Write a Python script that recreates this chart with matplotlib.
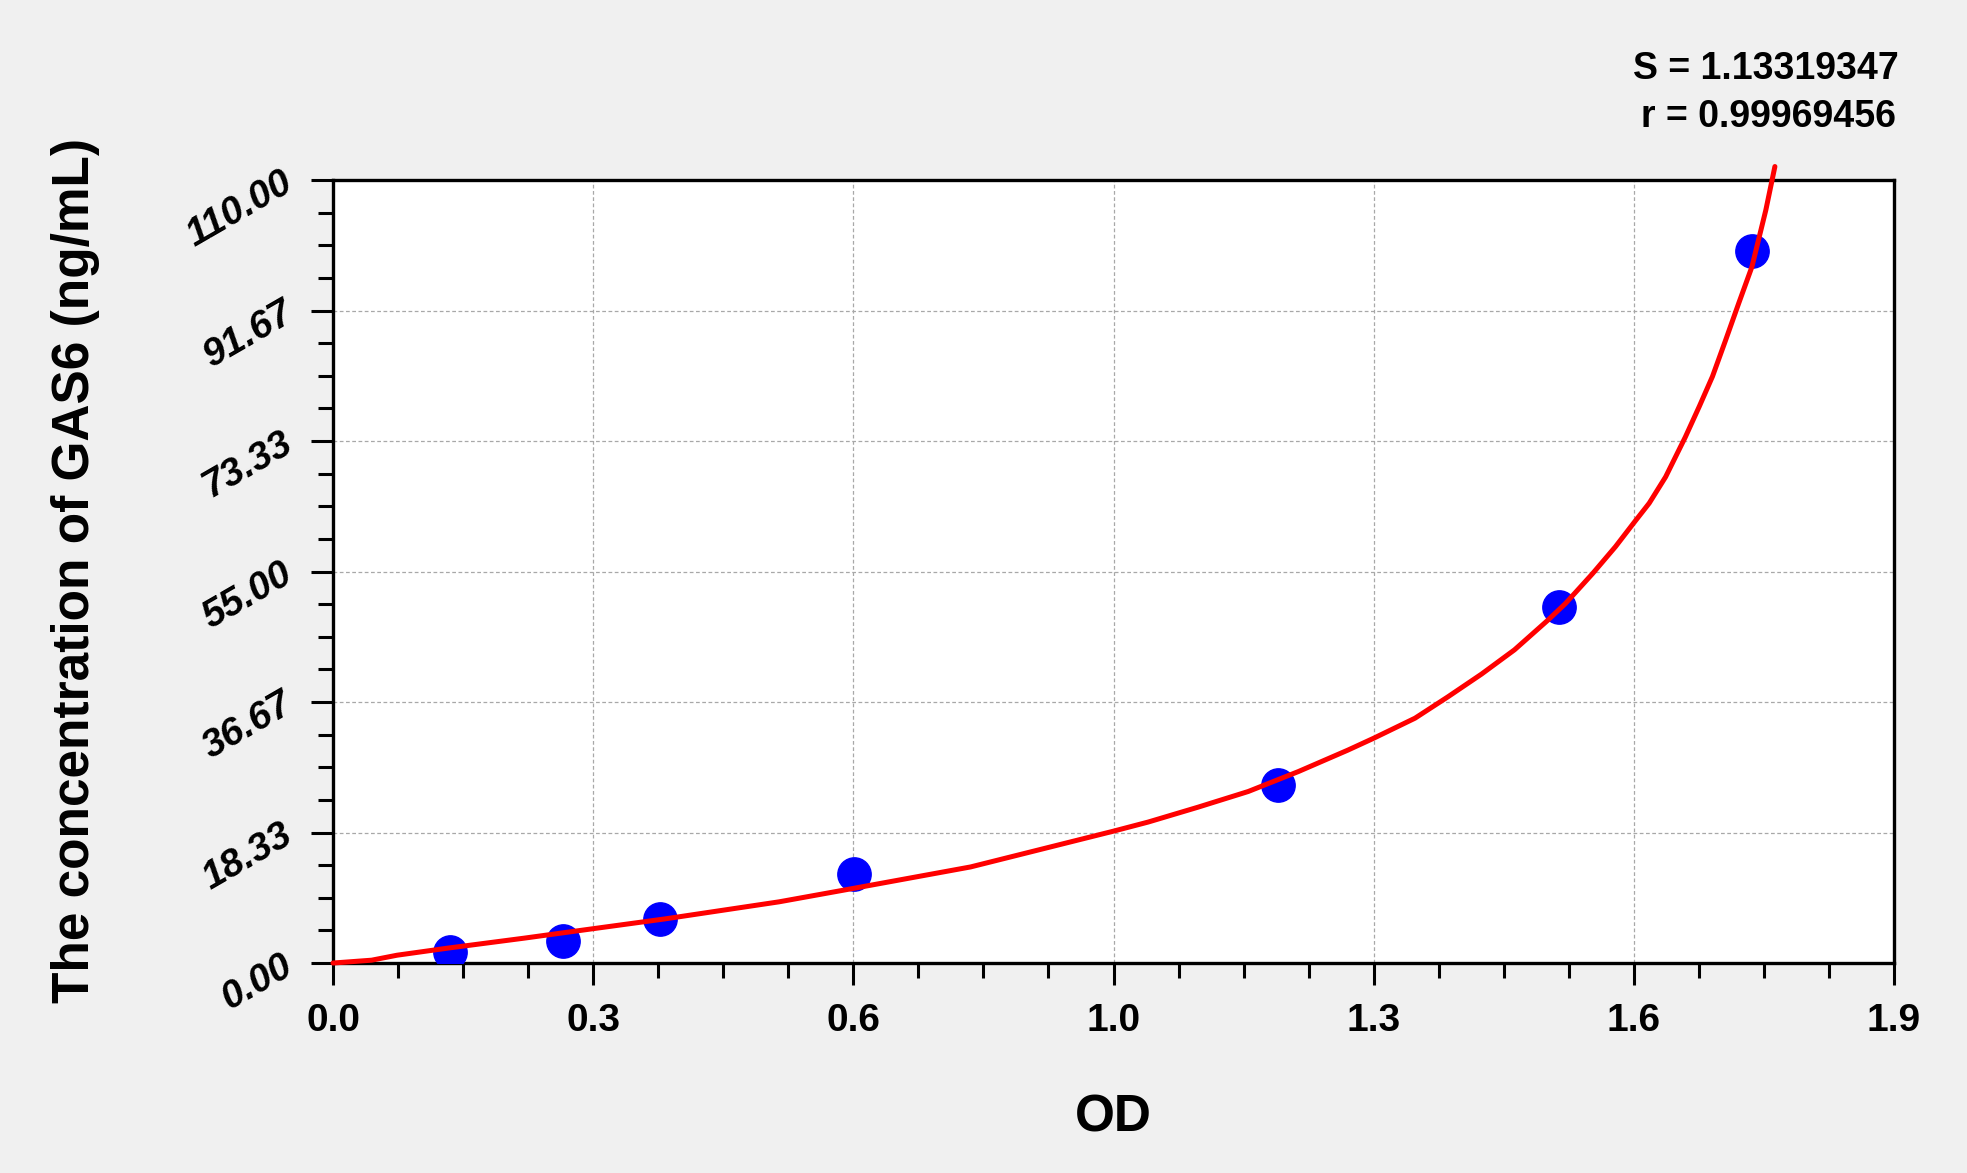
import matplotlib
matplotlib.use("Agg")
import matplotlib.pyplot as plt
from matplotlib.ticker import AutoMinorLocator

plt.rcParams['font.family'] = ['Liberation Sans', 'DejaVu Sans']

# standard points (OD vs concentration)
od = [0.142, 0.280, 0.398, 0.634, 1.150, 1.492, 1.727]
conc = [1.56, 3.13, 6.25, 12.5, 25.0, 50.0, 100.0]

# fitted curve
curve_od = [0.0, 0.047, 0.078, 0.140, 0.233, 0.315, 0.404, 0.543, 0.634, 0.776,
            0.949, 0.992, 1.053, 1.114, 1.175, 1.235, 1.267, 1.317, 1.357, 1.398,
            1.438, 1.479, 1.500, 1.533, 1.561, 1.583, 1.602, 1.622, 1.646, 1.663,
            1.679, 1.695, 1.711, 1.727, 1.744, 1.755]
curve_conc = [0.0, 0.4, 1.1, 2.1, 3.5, 4.8, 6.2, 8.6, 10.5, 13.5,
              18.5, 19.8, 21.9, 24.1, 26.9, 29.9, 31.6, 34.4, 37.4, 40.6,
              44.0, 48.2, 50.5, 54.7, 58.5, 61.8, 64.6, 68.3, 73.9, 78.2,
              82.4, 87.5, 92.7, 97.8, 105.8, 111.9]

x_ticks = [0.0, 1.9 / 6, 3.8 / 6, 0.95, 7.6 / 6, 9.5 / 6, 1.9]
x_labels = ['0.0', '0.3', '0.6', '1.0', '1.3', '1.6', '1.9']
y_ticks = [0.0, 110 / 6, 220 / 6, 55.0, 440 / 6, 550 / 6, 110.0]
y_labels = ['0.00', '18.33', '36.67', '55.00', '73.33', '91.67', '110.00']

fit_s = 'S = 1.13319347'
fit_r = 'r = 0.99969456'

bg = '#f0f0f0'
fig = plt.figure(figsize=(19.67, 11.73), dpi=100, facecolor=bg)
ax = fig.add_axes([0.1693, 0.1790, 0.7936, 0.6675])
ax.set_facecolor('white')

ax.plot(od, conc, 'o', color='#0000ff', markersize=24, zorder=3)
ax.plot(curve_od, curve_conc, color='#ff0000', lw=3.6, zorder=4,
        clip_on=False, solid_joinstyle='round', solid_capstyle='round')

ax.set_xlim(0, 1.9)
ax.set_ylim(0, 110)
ax.set_xticks(x_ticks)
ax.set_xticklabels(x_labels, fontsize=28, fontweight='bold')
ax.set_yticks(y_ticks)
ax.set_yticklabels(y_labels, fontsize=28, fontweight='bold', fontstyle='italic',
                   rotation=30, rotation_mode='anchor', ha='right', va='center')
ax.xaxis.set_minor_locator(AutoMinorLocator(4))
ax.yaxis.set_minor_locator(AutoMinorLocator(4))

ax.tick_params(which='major', direction='out', length=16, width=2.2, color='black')
ax.tick_params(which='minor', direction='out', length=11, width=2.2, color='black')
ax.tick_params(axis='x', which='major', pad=13)
ax.tick_params(axis='y', which='major', pad=15)

for sp in ax.spines.values():
    sp.set_linewidth(2.4)
    sp.set_color('black')

ax.grid(True, which='major', color='#a8a8a8', lw=0.9, linestyle=(0, (3, 2)))
ax.set_axisbelow(True)

fig.text(0.0454, 0.5135, 'The concentration of GAS6 (ng/mL)', rotation=90,
         rotation_mode='anchor', ha='center', va='baseline',
         fontsize=37, fontweight='bold')
fig.text(0.5661, 0.035, 'OD', ha='center', va='baseline',
         fontsize=37, fontweight='bold')

fig.text(0.9652, 0.9327, fit_s, ha='right', va='baseline', fontsize=27,
         fontweight='bold')
fig.text(0.9637, 0.892, fit_r, ha='right', va='baseline', fontsize=27,
         fontweight='bold')

fig.savefig('out.png', dpi=100, facecolor=bg)
